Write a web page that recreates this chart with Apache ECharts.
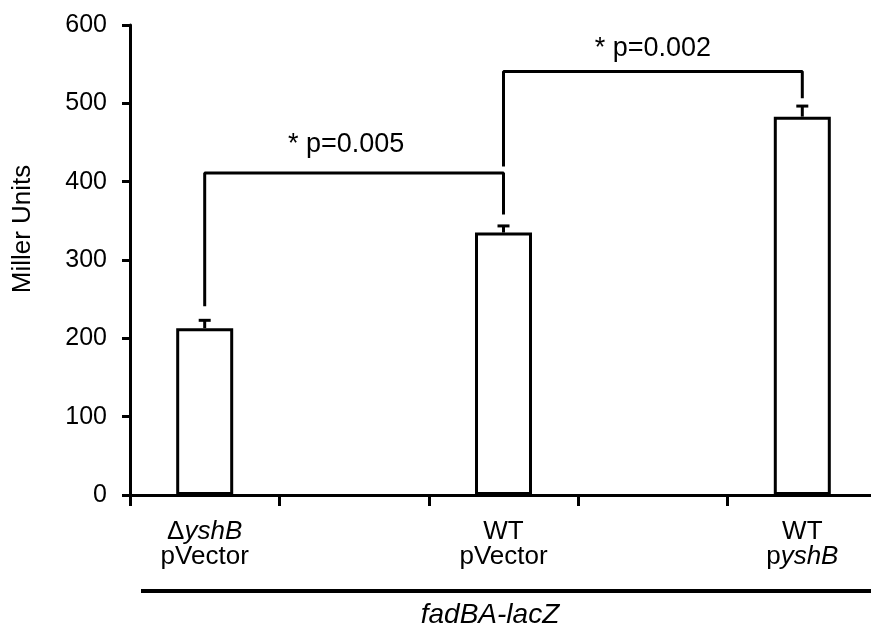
<!DOCTYPE html>
<html><head><meta charset="utf-8">
<script src="https://cdn.jsdelivr.net/npm/echarts@6/dist/echarts.min.js"></script>
<style>html,body{margin:0;padding:0;background:#fff}#c{width:871px;height:629px}</style>
</head><body><div id="c"></div>
<script>
// ---- data ----
const categories = ['ΔyshB\npVector', '', 'WT\npVector', '', 'WT\npyshB'];
const means = [213, '-', 335, '-', 483];
const errors = [10, '-', 8.5, '-', 13.5];
const yMin = 0, yMax = 600, yStep = 100;
// significance brackets: [categoryPosition, value]
const bracket1 = [[0, 241], [0, 411], [2, 411], [2, 358]];
const bracket2 = [[2, 419.5], [2, 540.5], [4, 540.5], [4, 506.5]];
const pLabels = [
  { name: '* p=0.005', value: [0.947, 448] },
  { name: '* p=0.002', value: [3, 570] }
];
const yName = 'Miller Units';
const groupName = 'fadBA-lacZ';

const errData = [];
means.forEach((m, i) => { if (m !== '-') errData.push([i, m, errors[i]]); });

const FONT = '"Liberation Sans", Arial, sans-serif';
const TXT = '#000';

const chart = echarts.init(document.getElementById('c'), null, { renderer: 'canvas' });
chart.setOption({
  animation: false,
  backgroundColor: '#fff',
  textStyle: { fontFamily: FONT, color: TXT },
  grid: { left: 130, right: -6, top: 25, bottom: 134, containLabel: false, outerBoundsMode: 'none' },
  xAxis: [{
    type: 'category',
    data: categories,
    boundaryGap: true,
    axisLine: { show: true, onZero: false, lineStyle: { color: '#000', width: 3 } },
    axisTick: { show: true, interval: 0, length: 11, lineStyle: { color: '#000', width: 3 } },
    axisLabel: {
      interval: 0, margin: 24, fontSize: 26, lineHeight: 25, color: TXT, fontFamily: FONT,
      formatter: v => v.replace(/yshB/g, '{i|yshB}'),
      rich: { i: { fontStyle: 'italic', fontSize: 26, lineHeight: 25, color: TXT, fontFamily: FONT } }
    },
    splitLine: { show: false }
  }, {
    type: 'value', min: -0.5, max: 4.5, show: false,
    axisLine: { onZero: false }
  }],
  yAxis: {
    type: 'value', min: yMin, max: yMax, interval: yStep,
    axisLine: { show: true, onZero: false, lineStyle: { color: '#000', width: 3 } },
    axisTick: { show: true, length: 8, lineStyle: { color: '#000', width: 3 } },
    axisLabel: { fontSize: 25, margin: 23, color: TXT, fontFamily: FONT },
    splitLine: { show: false }
  },
  series: [{
    type: 'bar', data: means, barWidth: 57, silent: true,
    itemStyle: { color: '#fff', borderColor: '#000', borderWidth: 3 }
  }, {
    type: 'custom', data: errData, encode: { x: 0, y: 1 }, silent: true, z: 3,
    renderItem: (params, api) => {
      const x = api.value(0), m = api.value(1), e = api.value(2);
      const p0 = api.coord([x, m]);
      const p1 = api.coord([x, m + e]);
      const st = { stroke: '#000', lineWidth: 3 };
      return { type: 'group', children: [
        { type: 'line', shape: { x1: p0[0], y1: p0[1], x2: p1[0], y2: p1[1] }, style: st },
        { type: 'line', shape: { x1: p1[0] - 6, y1: p1[1], x2: p1[0] + 6, y2: p1[1] }, style: st }
      ]};
    }
  }, {
    type: 'line', xAxisIndex: 1, data: bracket1, symbol: 'none', silent: true,
    lineStyle: { color: '#000', width: 3 }
  }, {
    type: 'line', xAxisIndex: 1, data: bracket2, symbol: 'none', silent: true,
    lineStyle: { color: '#000', width: 3 }
  }, {
    type: 'scatter', xAxisIndex: 1, data: pLabels, symbolSize: 0, silent: true,
    itemStyle: { opacity: 1 },
    label: { show: true, position: 'inside', formatter: p => p.name, fontSize: 27, color: TXT, opacity: 1, fontFamily: FONT }
  }],
  graphic: [{
    type: 'text', x: 23, y: 229, rotation: Math.PI / 2,
    style: { text: yName, fontSize: 26, fontFamily: FONT, fill: TXT, align: 'center', verticalAlign: 'middle' }
  }, {
    type: 'line', shape: { x1: 141, y1: 591, x2: 871, y2: 591 }, style: { stroke: '#000', lineWidth: 4 }
  }, {
    type: 'text', x: 490, y: 615,
    style: { text: groupName, fontSize: 28, fontStyle: 'italic', fontFamily: FONT, fill: TXT, align: 'center', verticalAlign: 'middle' }
  }]
});
</script></body></html>
